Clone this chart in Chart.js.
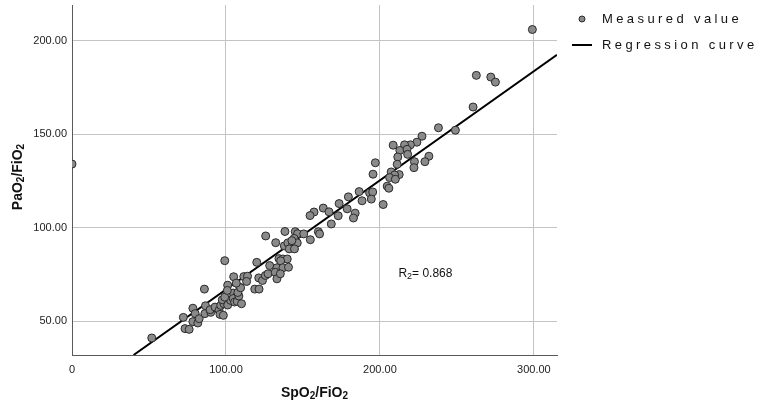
<!DOCTYPE html>
<html>
<head>
<meta charset="utf-8">
<script src="https://cdn.jsdelivr.net/npm/chart.js@4.4.1/dist/chart.umd.min.js"></script>
<style>
  html, body { margin: 0; padding: 0; background: #fff; }
  #wrap { width: 765px; height: 406px; }
</style>
</head>
<body>
<div id="wrap"><canvas id="chart" width="765" height="406"></canvas></div>
<script>
// SpO2/FiO2 (x) against PaO2/FiO2 (y)
const spo2Fio2 = [
  0, 299, 262.6, 272, 275, 260.5, 238, 249, 227.3, 224,
  219.8, 216, 208.6, 212.9, 217.6, 218, 211.6, 231.8, 229.2, 222.4,
  211.2, 197, 222.1, 195.5, 207.3, 212.5, 209.5, 206.3, 210, 204.7,
  205.8, 186.5, 193.3, 195.3, 179.5, 194.4, 188.4, 202.1, 173.5, 178.7,
  183.9, 182.8, 163.2, 166.9, 157.2, 154.6, 172.9, 168.4, 160, 160.8,
  154.8, 138.3, 145, 146.5, 150.5, 125.8, 132.3, 137.9, 140.2, 144.3,
  143.4, 146.3, 141.1, 144.5, 120, 134.4, 137, 139.8, 135.5, 128.4,
  133.1, 137, 142.8, 99.2, 86, 105, 111.6, 114, 121.3, 123.7,
  101.1, 109, 118.7, 121.5, 113.4, 104.7, 107.3, 51.8, 72.3, 78.5,
  73.4, 76.1, 80, 78.5, 81.7, 82.6, 86.3, 86.7, 90.1, 89.7,
  92.9, 95.5, 96.1, 98.3, 96.6, 98.7, 97.6, 101.1, 103, 104.7,
  105.6, 107.3, 108.4, 107.7, 109.5, 99.2, 100.9, 106.7, 110.1, 125.6,
  127.3, 132, 133.1, 135.3, 140.6
];
const pao2Fio2 = [
  134, 205.9, 181.4, 180.5, 177.8, 164.5, 153.4, 152.1, 148.9, 145.7,
  144.3, 144.3, 144.1, 141.3, 141.9, 139.2, 137.8, 138.2, 135.3, 135.3,
  133.9, 134.7, 132.1, 128.6, 129.8, 128.4, 128.2, 126.8, 125.9, 122.2,
  121.1, 119.3, 118.6, 119.1, 116.5, 115.3, 114.4, 112.4, 112.9, 110.1,
  107.8, 105.2, 110.5, 108.5, 108.4, 106.5, 106.4, 102, 97.9, 96.7,
  93.6, 98, 97.9, 96.8, 96.7, 95.6, 92, 90.3, 91.9, 94.3,
  91.1, 91.9, 88.7, 88.7, 81.5, 83.5, 83.3, 83.3, 82.3, 79.8,
  78.6, 78.6, 93.1, 82.4, 67.2, 73.8, 73.9, 74.1, 73.2, 71.8,
  69.3, 68.2, 67.2, 67.2, 71.3, 65.1, 63.7, 41.1, 52.1, 57,
  46.1, 45.7, 54.1, 49.8, 49.1, 51.4, 54.1, 58.3, 54.8, 56.2,
  57.6, 55.9, 53.7, 53.2, 58.5, 59.4, 61.5, 58.7, 61.2, 62.2,
  60.3, 60.6, 63.5, 65.4, 67.9, 62.9, 66.5, 70.4, 59.4, 74.5,
  75.4, 76.2, 72.7, 75.4, 78.9
];

// fitted line, drawn between its two visible ends
const fitX = [40, 315];
const fitY = [32, 192.4];

const xTicks = [0, 100, 200, 300];
const yTicks = [50, 100, 150, 200];
const legendLabels = ['Measured value', 'Regression curve'];

// text pieces: [text, isSubscript]
const xTitle = [['SpO', false], ['2', true], ['/FiO', false], ['2', true]];
const yTitle = [['PaO', false], ['2', true], ['/FiO', false], ['2', true]];
const r2Label = [['R', false], ['2', true], ['= 0.868', false]];
const r2Pos = {x: 212, y: 75.7};

const FONT = '"Liberation Sans", Arial, sans-serif';

const points = spo2Fio2.map((x, i) => ({x, y: pao2Fio2[i]}));
const fitLine = fitX.map((x, i) => ({x, y: fitY[i]}));

// drop the half-label padding chart.js adds around each axis
function noEdgePad(s) {
  s.paddingTop = 0;
  s.paddingBottom = 0;
  s.paddingLeft = 0;
  s.paddingRight = 0;
}

// writes text with subscripts, starting at x (baseline middle)
function subText(ctx, parts, x, y, font, subFont, drop) {
  let cx = x;
  for (const [t, sub] of parts) {
    ctx.font = sub ? subFont : font;
    ctx.fillText(t, cx, sub ? y + drop : y);
    cx += ctx.measureText(t).width;
  }
  return cx - x;
}

function subWidth(ctx, parts, font, subFont) {
  let w = 0;
  for (const [t, sub] of parts) {
    ctx.font = sub ? subFont : font;
    w += ctx.measureText(t).width;
  }
  return w;
}

// axis titles, legend on the right and the R2 note inside the plot
const overlay = {
  id: 'overlay',
  afterDraw(chart) {
    const {ctx, scales, chartArea} = chart;
    ctx.save();
    ctx.fillStyle = '#111';
    ctx.textBaseline = 'middle';
    ctx.textAlign = 'left';

    const tFont = 'bold 14px ' + FONT;
    const tSub = 'bold 10px ' + FONT;
    const midX = (chartArea.left + chartArea.right) / 2;
    const midY = (chartArea.top + chartArea.bottom) / 2;

    let w = subWidth(ctx, xTitle, tFont, tSub);
    subText(ctx, xTitle, midX - w / 2, 393, tFont, tSub, 3);

    w = subWidth(ctx, yTitle, tFont, tSub);
    ctx.save();
    ctx.translate(18, midY - 3);
    ctx.rotate(-Math.PI / 2);
    subText(ctx, yTitle, -w / 2, 0, tFont, tSub, 3);
    ctx.restore();

    subText(ctx, r2Label,
      scales.x.getPixelForValue(r2Pos.x), scales.y.getPixelForValue(r2Pos.y),
      '12px ' + FONT, '9px ' + FONT, 3);

    // legend marker: point
    ctx.beginPath();
    ctx.arc(582, 19, 3, 0, Math.PI * 2);
    ctx.fillStyle = '#8a8a8a';
    ctx.fill();
    ctx.lineWidth = 1;
    ctx.strokeStyle = '#2a2a2a';
    ctx.stroke();

    // legend marker: line
    ctx.beginPath();
    ctx.moveTo(572, 45);
    ctx.lineTo(592, 45);
    ctx.lineWidth = 2;
    ctx.strokeStyle = '#000';
    ctx.stroke();

    ctx.font = '13px ' + FONT;
    ctx.letterSpacing = '3.4px';
    ctx.fillStyle = '#111';
    ctx.fillText(legendLabels[0], 602, 19);
    ctx.fillText(legendLabels[1], 602, 45);
    ctx.restore();
  }
};

new Chart(document.getElementById('chart'), {
  type: 'scatter',
  data: {
    datasets: [
      {
        label: legendLabels[0],
        data: points,
        pointRadius: 4,
        pointBackgroundColor: '#8a8a8a',
        pointBorderColor: '#2a2a2a',
        pointBorderWidth: 1
      },
      {
        label: legendLabels[1],
        data: fitLine,
        showLine: true,
        pointRadius: 0,
        borderColor: '#000',
        borderWidth: 2
      }
    ]
  },
  options: {
    responsive: false,
    animation: false,
    devicePixelRatio: 1,
    layout: {padding: {top: 3, right: 208, left: 0, bottom: 0}},
    plugins: {legend: {display: false}, tooltip: {enabled: false}},
    scales: {
      x: {
        min: 0,
        max: 315,
        afterBuildTicks: s => { s.ticks = xTicks.map(value => ({value})); },
        afterFit: s => { s.height = 51; noEdgePad(s); },
        grid: {color: '#c4c4c4', lineWidth: 1, drawTicks: false},
        border: {color: '#5a5a5a', width: 1},
        ticks: {
          padding: 8,
          maxRotation: 0,
          autoSkip: false,
          color: '#222',
          font: {family: FONT, size: 11},
          callback: v => v === 0 ? '0' : v.toFixed(2)
        }
      },
      y: {
        min: 32,
        max: 219,
        afterBuildTicks: s => { s.ticks = yTicks.map(value => ({value})); },
        afterFit: s => { s.width = 72; noEdgePad(s); },
        grid: {color: '#c4c4c4', lineWidth: 1, drawTicks: false},
        border: {color: '#5a5a5a', width: 1},
        ticks: {
          padding: 5,
          color: '#222',
          font: {family: FONT, size: 11},
          callback: v => v.toFixed(2)
        }
      }
    }
  },
  plugins: [overlay]
});
</script>
</body>
</html>
